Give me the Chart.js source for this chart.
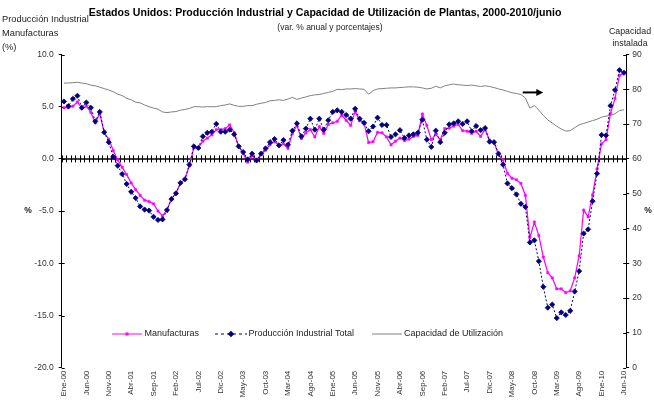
<!DOCTYPE html>
<html>
<head>
<meta charset="utf-8">
<script src="https://cdn.jsdelivr.net/npm/chart.js@4.4.1/dist/chart.umd.min.js"></script>
<style>
  html, body { margin: 0; padding: 0; background: #fff; }
  canvas { display: block; }
</style>
</head>
<body>
<canvas id="chart" width="654" height="401"></canvas>
<script>
// meses y años de la serie (Ene-00 a Jun-10)
const monthNames = ["Ene", "Feb", "Mar", "Abr", "May", "Jun", "Jul", "Ago", "Sep", "Oct", "Nov", "Dic"];
const years = ["00", "01", "02", "03", "04", "05", "06", "07", "08", "09", "10"];
const lastMonthIndex = 5; // junio 2010

const labels = [];
years.forEach((yy, y) => {
  monthNames.forEach((m, k) => {
    if (y === years.length - 1 && k > lastMonthIndex) return;
    labels.push(`${m}-${yy}`);
  });
});

// Manufacturas (var. % anual)
const manufacturas = [
  4.9, 4.9, 5.05, 5.45, 4.85, 5.05, 4.45, 3.45, 4.35, 2.5, 1.9, 0.8,
  -0.1, -0.8, -1.5, -2.3, -2.95, -3.5, -3.95, -4.1, -4.3, -5.0, -5.45, -4.9,
  -3.8, -3.3, -2.35, -1.95, -0.65, 1.05, 1.05, 1.7, 2.0, 2.3, 2.8, 2.8,
  2.9, 3.25, 2.5, 1.2, 0.55, -0.3, 0.3, -0.1, 0.4, 0.85, 1.35, 1.65,
  1.3, 1.45, 1.0, 2.45, 3.2, 1.95, 2.5, 2.8, 2.1, 3.1, 2.45, 3.3,
  3.45, 3.6, 4.2, 3.7, 3.2, 4.55, 3.65, 3.45, 1.55, 1.65, 2.55, 2.5,
  2.1, 1.35, 1.7, 2.0, 1.75, 1.9, 2.15, 2.25, 4.3, 3.2, 1.85, 2.35,
  1.85, 2.9, 2.95, 3.15, 3.3, 2.7, 2.65, 2.45, 2.65, 2.15, 2.8, 1.8,
  1.6, 0.4, -0.1, -1.4, -1.85, -2.0, -2.35, -3.5, -7.55, -6.05, -7.35, -9.4,
  -10.9, -11.4, -12.45, -12.45, -12.8, -12.65, -11.4, -9.3, -4.9, -5.55, -3.45, -0.95,
  1.45, 1.85, 4.35, 5.8, 8.0, 8.2
];

// Producción Industrial Total (var. % anual)
const produccionTotal = [
  5.5, 5.05, 5.75, 6.05, 4.9, 5.4, 4.9, 3.6, 4.5, 2.55, 1.6, 0.2,
  -0.65, -1.45, -2.4, -3.15, -3.75, -4.55, -4.85, -4.95, -5.55, -5.85, -5.8, -4.9,
  -3.85, -3.3, -2.3, -1.95, -0.55, 1.2, 1.05, 2.15, 2.5, 2.6, 3.35, 2.6,
  2.6, 2.8, 2.35, 1.2, 0.65, -0.05, 0.5, -0.15, 0.5, 1.0, 1.6, 1.9,
  1.3, 1.8, 1.35, 2.7, 3.4, 2.15, 2.9, 3.85, 2.8, 3.85, 2.8, 3.7,
  4.5, 4.65, 4.5, 4.2, 3.85, 4.8, 3.85, 3.45, 2.65, 3.1, 3.95, 3.25,
  3.25, 2.1, 2.35, 2.75, 2.0, 2.25, 2.35, 2.5, 3.75, 1.85, 1.15, 2.7,
  1.6, 2.5, 3.3, 3.4, 3.6, 3.35, 3.6, 2.65, 3.15, 2.75, 2.95, 1.65,
  1.6, 0.5, -0.55, -2.35, -2.8, -3.4, -4.3, -4.6, -8.0, -7.8, -9.8, -12.25,
  -14.25, -13.95, -15.25, -14.7, -14.95, -14.55, -12.7, -10.75, -7.15, -6.75, -4.05, -1.4,
  2.3, 2.25, 5.1, 6.6, 8.5, 8.25
];

// Capacidad de Utilización (%), eje derecho
const capacidad = [
  81.8, 81.8, 81.9, 82.0, 81.8, 81.6, 81.2, 81.0, 80.6, 80.2, 79.8, 79.3,
  78.6, 78.2, 77.4, 77.0, 76.3, 76.1, 75.5, 75.0, 74.6, 74.3, 73.5, 73.3,
  73.5, 73.6, 74.0, 74.2, 74.5, 75.0, 75.0, 74.9, 75.0, 75.0, 75.0, 75.3,
  75.5, 75.8, 75.4, 75.1, 75.1, 75.3, 75.3, 75.7, 76.0, 76.2, 76.7, 76.8,
  77.0, 76.8, 77.2, 77.7, 77.1, 77.5, 77.8, 78.2, 78.4, 78.5, 78.8, 79.1,
  79.4, 80.0, 79.9, 80.1, 80.1, 80.2, 80.1, 80.0, 78.6, 79.6, 80.1, 80.2,
  80.3, 80.4, 80.4, 80.5, 80.6, 80.7, 80.7, 80.6, 80.4, 80.1, 80.3, 80.9,
  80.4, 81.0, 81.3, 81.5, 81.3, 81.2, 81.1, 81.2, 81.0, 80.8, 81.0, 80.8,
  80.5, 80.1, 79.8, 79.4, 79.0, 78.8, 78.5, 77.5, 74.6, 75.3, 74.0, 72.5,
  71.2, 70.3, 69.4, 68.6, 68.0, 68.1, 69.0, 69.8, 70.2, 70.6, 71.0, 71.4,
  72.0, 72.3, 72.5, 73.0, 73.9, 74.1
];

const leftTicks = { min: -20, max: 10, step: 5 };
const rightTicks = { min: 0, max: 90, step: 10 };

// flecha que señala el eje derecho (en unidades de los ejes)
const arrowFrom = 102.4;
const arrowTo = 107;
const arrowLevel = 79.1;

const FONT = '"Liberation Sans", Arial, sans-serif';
const PINK = "#ff00ff";
const NAVY = "#000080";
const GRAY = "#808080";

const drawDiamond = (c, x, y, r) => {
  c.beginPath();
  c.moveTo(x, y - r);
  c.lineTo(x + r, y);
  c.lineTo(x, y + r);
  c.lineTo(x - r, y);
  c.closePath();
  c.fill();
};

const axisPlugin = {
  id: "zeroAxis",
  beforeDatasetsDraw(chart) {
    const { ctx: c, chartArea: a, scales } = chart;
    const x = scales.x;
    const y = scales.y;
    const y0 = y.getPixelForValue(0);
    const step = x.getPixelForValue(1) - x.getPixelForValue(0);
    c.save();
    c.strokeStyle = "#000";
    c.lineWidth = 1.5;
    c.beginPath();
    c.moveTo(a.left, y0);
    c.lineTo(a.right, y0);
    c.stroke();
    c.lineWidth = 1;
    c.beginPath();
    for (let i = 0; i <= labels.length; i++) {
      const px = Math.round(x.getPixelForValue(0) - step / 2 + i * step) + 0.5;
      c.moveTo(px, y0 - 3.5);
      c.lineTo(px, y0 + 3.5);
    }
    c.stroke();
    // inner halves of the cross tick marks on both value axes
    c.beginPath();
    y.ticks.forEach((t) => {
      const py = Math.round(y.getPixelForValue(t.value)) + 0.5;
      c.moveTo(a.left, py);
      c.lineTo(a.left + 3, py);
    });
    scales.y1.ticks.forEach((t) => {
      const py = Math.round(scales.y1.getPixelForValue(t.value)) + 0.5;
      c.moveTo(a.right - 3, py);
      c.lineTo(a.right, py);
    });
    c.stroke();
    c.restore();
  },
  afterDraw(chart) {
    const { ctx: c, scales } = chart;
    c.save();
    // titles
    c.fillStyle = "#000";
    c.textAlign = "center";
    c.textBaseline = "middle";
    c.font = `bold 10.6px ${FONT}`;
    c.fillText("Estados Unidos: Producción Industrial y Capacidad de Utilización de Plantas, 2000-2010/junio", 325, 13);
    c.font = `8.5px ${FONT}`;
    c.fillStyle = "#222";
    c.fillText("(var. % anual y porcentajes)", 330, 28);

    c.font = `9.3px ${FONT}`;
    c.textAlign = "left";
    c.fillText("Producción Industrial", 2, 19);
    c.fillText("Manufacturas", 2, 33);
    c.fillText("(%)", 2, 47);
    c.textAlign = "center";
    c.font = `8.8px ${FONT}`;
    c.fillText("Capacidad", 630, 32);
    c.fillText("instalada", 630, 44);

    const yPct = scales.y.getPixelForValue(-5);
    c.font = `bold 8.5px ${FONT}`;
    c.fillText("%", 28, yPct);
    c.fillText("%", 648, yPct);

    // arrow pointing to the right axis
    const ax0 = scales.x.getPixelForValue(arrowFrom);
    const ax1 = scales.x.getPixelForValue(arrowTo);
    const ay = scales.y1.getPixelForValue(arrowLevel);
    c.strokeStyle = "#000";
    c.fillStyle = "#000";
    c.lineWidth = 2;
    c.beginPath();
    c.moveTo(ax0, ay);
    c.lineTo(ax1 - 5, ay);
    c.stroke();
    c.beginPath();
    c.moveTo(ax1, ay);
    c.lineTo(ax1 - 7, ay - 3.5);
    c.lineTo(ax1 - 7, ay + 3.5);
    c.closePath();
    c.fill();

    // legend
    const ly = 334;
    c.font = `9px ${FONT}`;
    c.textAlign = "left";
    c.fillStyle = "#222";
    c.lineWidth = 1;

    c.strokeStyle = PINK;
    c.beginPath();
    c.moveTo(112, ly);
    c.lineTo(142, ly);
    c.stroke();
    c.fillStyle = PINK;
    c.fillRect(125.5, ly - 1.5, 3, 3);
    c.fillStyle = "#222";
    c.fillText("Manufacturas", 144.5, ly);

    c.strokeStyle = NAVY;
    c.setLineDash([3, 3]);
    c.beginPath();
    c.moveTo(215, ly);
    c.lineTo(247, ly);
    c.stroke();
    c.setLineDash([]);
    c.fillStyle = NAVY;
    drawDiamond(c, 231, ly, 3.3);
    c.fillStyle = "#222";
    c.fillText("Producción Industrial Total", 248.5, ly);

    c.strokeStyle = GRAY;
    c.beginPath();
    c.moveTo(372, ly);
    c.lineTo(402, ly);
    c.stroke();
    c.fillText("Capacidad de Utilización", 404, ly);
    c.restore();
  }
};

const tickFont = { family: FONT, size: 8.5 };

new Chart(document.getElementById("chart"), {
  type: "line",
  data: {
    labels: labels,
    datasets: [
      {
        label: "Producción Industrial Total",
        data: produccionTotal,
        yAxisID: "y",
        borderColor: NAVY,
        borderWidth: 1,
        borderDash: [2, 2],
        pointStyle: "rectRot",
        pointRadius: 2.6,
        pointBorderWidth: 0.8,
        pointBackgroundColor: NAVY,
        pointBorderColor: NAVY,
        tension: 0,
        order: 0
      },
      {
        label: "Manufacturas",
        data: manufacturas,
        yAxisID: "y",
        borderColor: PINK,
        borderWidth: 1.25,
        pointStyle: "rect",
        pointRadius: 1.6,
        pointBorderWidth: 0.5,
        pointBackgroundColor: PINK,
        pointBorderColor: PINK,
        tension: 0,
        order: 1
      },
      {
        label: "Capacidad de Utilización",
        data: capacidad,
        yAxisID: "y1",
        borderColor: GRAY,
        borderWidth: 1,
        pointRadius: 0,
        tension: 0,
        order: 2
      }
    ]
  },
  options: {
    responsive: false,
    animation: false,
    devicePixelRatio: 1,
    layout: { padding: { top: 54.5, left: 0, right: 0, bottom: 0 } },
    plugins: {
      legend: { display: false },
      tooltip: { enabled: false }
    },
    scales: {
      x: {
        type: "category",
        offset: true,
        grid: { display: false, drawTicks: false },
        border: { display: false },
        ticks: {
          autoSkip: false,
          maxRotation: 90,
          minRotation: 90,
          padding: 3,
          color: "#333",
          font: { family: FONT, size: 8 },
          callback: (v, i) => (i % 5 === 0 ? labels[i] : "")
        },
        afterFit: (s) => { s.height = 33.3; }
      },
      y: {
        position: "left",
        min: leftTicks.min,
        max: leftTicks.max,
        ticks: {
          stepSize: leftTicks.step,
          padding: 5,
          color: "#333",
          font: tickFont,
          callback: (v) => v.toFixed(1)
        },
        grid: { drawOnChartArea: false, color: "#000", tickLength: 3 },
        border: { color: "#000", width: 1 },
        afterFit: (s) => { s.width = 61.7; }
      },
      y1: {
        position: "right",
        min: rightTicks.min,
        max: rightTicks.max,
        ticks: {
          stepSize: rightTicks.step,
          padding: 3,
          color: "#333",
          font: tickFont
        },
        grid: { drawOnChartArea: false, color: "#000", tickLength: 3 },
        border: { color: "#000", width: 1 },
        afterFit: (s) => { s.width = 27.8; }
      }
    }
  },
  plugins: [axisPlugin]
});
</script>
</body>
</html>
